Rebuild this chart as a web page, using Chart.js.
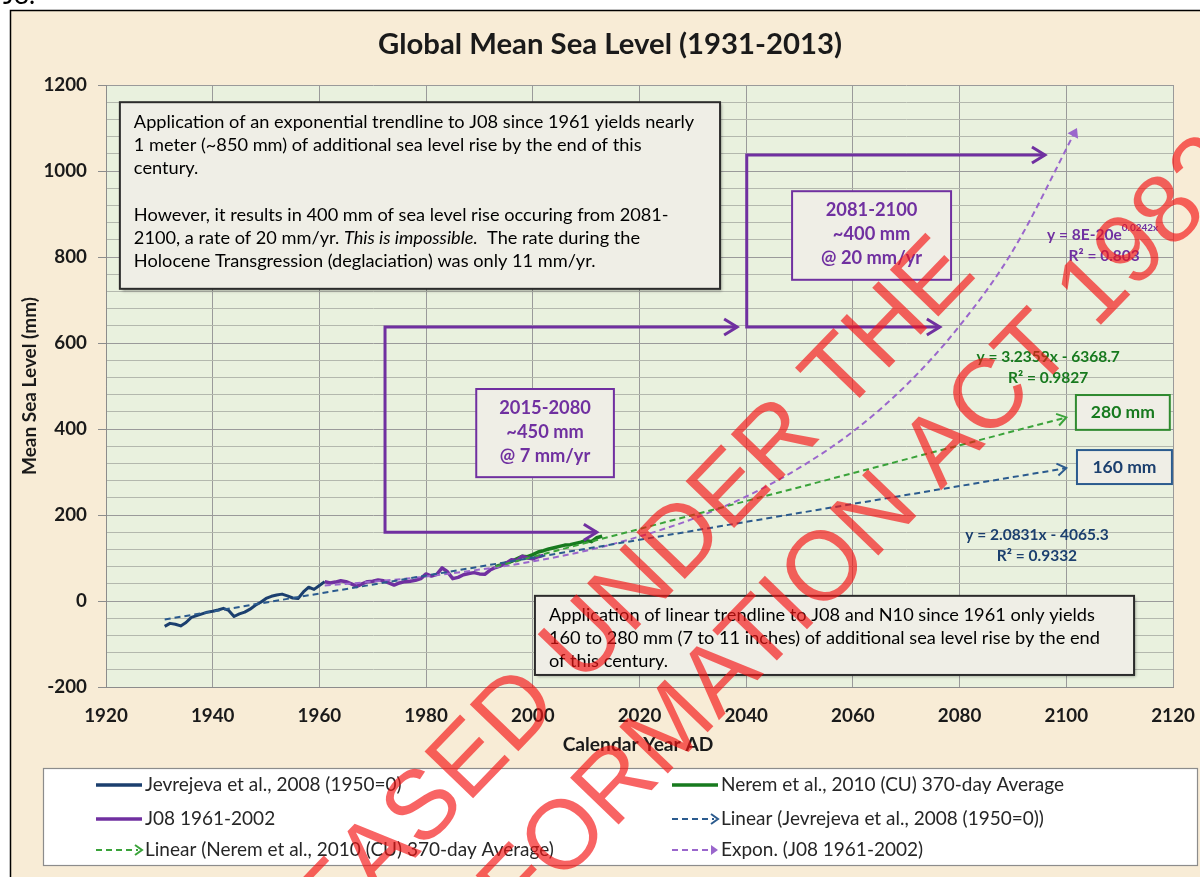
<!DOCTYPE html>
<html>
<head>
<meta charset="utf-8">
<title>Global Mean Sea Level (1931-2013)</title>
<script src="https://cdn.jsdelivr.net/npm/chart.js@4.4.1/dist/chart.umd.min.js"></script>
<style>
  html, body { margin: 0; padding: 0; background: #fff; }
  canvas { display: block; }
</style>
</head>
<body>
<canvas id="seaLevel" width="1200" height="877"></canvas>
<script>
// ── Data ─────────────────────────────────────────────────
const jevYears = [1931, 1932, 1933, 1934, 1935, 1936, 1937, 1938, 1939, 1940,
                  1941, 1942, 1943, 1944, 1945, 1946, 1947, 1948, 1949, 1950,
                  1951, 1952, 1953, 1954, 1955, 1956, 1957, 1958, 1959, 1960, 1961];
const jevLevel = [-59, -52, -54, -58, -50, -38, -34, -30, -26, -24,
                  -21, -17, -22, -36, -30, -26, -19, -10, -3, 6,
                  11, 14, 16, 12, 7, 6, 21, 32, 27, 36, 45];

const j08Years = [1961, 1962, 1963, 1964, 1965, 1966, 1967, 1968, 1969, 1970,
                  1971, 1972, 1973, 1974, 1975, 1976, 1977, 1978, 1979, 1980,
                  1981, 1982, 1983, 1984, 1985, 1986, 1987, 1988, 1989, 1990,
                  1991, 1992, 1993, 1994, 1995, 1996, 1997, 1998, 1999, 2000, 2001, 2002];
const j08Level = [45, 42, 44, 47, 45, 40, 34, 40, 45, 46,
                  49, 47, 42, 37, 42, 45, 46, 48, 52, 63,
                  58, 62, 77, 68, 52, 55, 61, 64, 66, 63,
                  62, 72, 78, 82, 88, 96, 94, 104, 100, 98, 103, 106];

const neremYears = [1993, 1994, 1995, 1996, 1997, 1998, 1999, 2000, 2001, 2002,
                    2003, 2004, 2005, 2006, 2007, 2008, 2009, 2010, 2011, 2012, 2013];
const neremLevel = [80, 84, 88, 92, 98, 104, 103, 108, 114, 117,
                    121, 124, 127, 130, 131, 134, 137, 141, 138, 147, 151];

const linJevYears = [1931, 2100];
const linJevLevel = [-43, 309];
const linNeremYears = [1993, 2100];
const linNeremLevel = [80, 427];
const exponYears = [1961, 1970, 1980, 1990, 2000, 2010, 2020, 2030, 2040, 2050, 2060, 2070, 2080, 2090, 2102];
const exponLevel = [36, 45, 57, 73, 92, 117, 150, 191, 243, 310, 394, 502, 640, 815, 1100];

const xTicks = [1920, 1940, 1960, 1980, 2000, 2020, 2040, 2060, 2080, 2100, 2120];
const yTicks = [-200, 0, 200, 400, 600, 800, 1000, 1200];

// ── Styles ───────────────────────────────────────────────
const FONT = 'Lato, "Open Sans", sans-serif';
const navy = '#1b3f6e';
const purple = '#7030a0';
const green = '#177a1e';
const navyDash = '#2b5b8e';
const greenDash = '#3aa33a';
const purpleDash = '#9a66cc';

const pairs = (xs, ys) => xs.map((x, i) => ({ x, y: ys[i] }));

function text(ctx, s, x, y, size, o = {}) {
    ctx.save();
    ctx.font = `${o.italic ? 'italic ' : ''}${o.bold ? 'bold ' : ''}${size}px ${FONT}`;
    ctx.fillStyle = o.color || '#000';
    ctx.textAlign = o.align || 'left';
    ctx.textBaseline = 'middle';
    ctx.fillText(s, x, y);
    const w = ctx.measureText(s).width;
    ctx.restore();
    return w;
}

function chevron(ctx, x, y, dx, dy, len, half, filled) {
    const n = Math.hypot(dx, dy); dx /= n; dy /= n;
    const bx = x - dx * len, by = y - dy * len;
    ctx.beginPath();
    ctx.moveTo(bx - dy * half, by + dx * half);
    ctx.lineTo(x, y);
    ctx.lineTo(bx + dy * half, by - dx * half);
    if (filled) { ctx.closePath(); ctx.fill(); } else ctx.stroke();
}

function box(ctx, x0, y0, x1, y1, stroke, lw, shadow) {
    ctx.save();
    if (shadow) {
        ctx.shadowColor = 'rgba(0,0,0,0.35)';
        ctx.shadowBlur = 3; ctx.shadowOffsetX = 2; ctx.shadowOffsetY = 2;
    }
    ctx.fillStyle = '#efeee6';
    ctx.fillRect(x0, y0, x1 - x0, y1 - y0);
    ctx.shadowColor = 'transparent';
    ctx.strokeStyle = stroke; ctx.lineWidth = lw;
    ctx.strokeRect(x0, y0, x1 - x0, y1 - y0);
    ctx.restore();
}

// ── Background, frame, plot fill ─────────────────────────
const backgroundPlugin = {
    id: 'background',
    beforeDraw(chart) {
        const { ctx, chartArea: a } = chart;
        ctx.save();
        ctx.fillStyle = '#ffffff';
        ctx.fillRect(0, 0, chart.width, chart.height);
        ctx.fillStyle = '#f8ecd6';
        ctx.fillRect(10, 10, chart.width - 10, chart.height - 10);
        ctx.strokeStyle = '#000'; ctx.lineWidth = 1.5;
        ctx.beginPath();
        ctx.moveTo(10.5, chart.height); ctx.lineTo(10.5, 10.5); ctx.lineTo(chart.width, 10.5);
        ctx.stroke();
        ctx.fillStyle = '#e9f1de';
        ctx.fillRect(a.left, a.top, a.right - a.left, a.bottom - a.top);
        ctx.restore();
        text(ctx, 'J8.', 3, -4, 26);
    }
};

// ── Arrowheads at the end of the trendlines ──────────────
const trendArrowPlugin = {
    id: 'trendArrows',
    afterDatasetsDraw(chart) {
        const ctx = chart.ctx;
        chart.data.datasets.forEach((ds, i) => {
            if (!ds.arrow) return;
            const pts = chart.getDatasetMeta(i).data;
            const p1 = pts[pts.length - 1], p0 = pts[pts.length - 2];
            ctx.save();
            ctx.strokeStyle = ds.borderColor; ctx.fillStyle = ds.borderColor;
            ctx.lineWidth = 2;
            chevron(ctx, p1.x, p1.y, p1.x - p0.x, p1.y - p0.y, 9, 6, ds.arrow === 'filled');
            ctx.restore();
        });
    }
};

// ── Annotations, titles, legend, stamp ───────────────────
const annotationPlugin = {
    id: 'annotations',
    afterDraw(chart) {
        const { ctx } = chart;
        const X = v => chart.scales.x.getPixelForValue(v);
        const Y = v => chart.scales.y.getPixelForValue(v);

        // purple brackets
        ctx.save();
        ctx.strokeStyle = purple; ctx.lineWidth = 3; ctx.lineJoin = 'miter';
        [[1972.3, 637, 160, 2038.3, 2012.0], [2040.1, 1037, 637, 2096.0, 2076.3]].forEach(([bx, top, bot, tipTop, tipBot]) => {
            ctx.beginPath();
            ctx.moveTo(X(tipTop), Y(top));
            ctx.lineTo(X(bx), Y(top));
            ctx.lineTo(X(bx), Y(bot));
            ctx.lineTo(X(tipBot), Y(bot));
            ctx.stroke();
            chevron(ctx, X(tipTop), Y(top), 1, 0, 13, 8);
            chevron(ctx, X(tipBot), Y(bot), 1, 0, 13, 8);
        });
        ctx.restore();

        // big note
        const fs = 18.2;
        box(ctx, X(1922.6), Y(1160), X(2035.1), Y(726), '#2b2b2b', 2, true);
        const l0 = X(1922.6) + 14, t0 = Y(1160) + 20, lh = 23.2;
        text(ctx, 'Application of an exponential trendline to J08 since 1961 yields nearly', l0, t0, fs);
        text(ctx, '1 meter (~850 mm) of additional sea level rise by the end of this', l0, t0 + lh, fs);
        text(ctx, 'century.', l0, t0 + 2 * lh, fs);
        text(ctx, 'However, it results in 400 mm of sea level rise occuring from 2081-', l0, t0 + 4 * lh, fs);
        let w = text(ctx, '2100, a rate of 20 mm/yr. ', l0, t0 + 5 * lh, fs);
        w += text(ctx, 'This is impossible.', l0 + w, t0 + 5 * lh, fs, { italic: true });
        text(ctx, '  The rate during the', l0 + w, t0 + 5 * lh, fs);
        text(ctx, 'Holocene Transgression (deglaciation) was only 11 mm/yr.', l0, t0 + 6 * lh, fs);

        // rate boxes
        box(ctx, X(1989.4), Y(493), X(2015.2), Y(288), purple, 2);
        let cx = (X(1989.4) + X(2015.2)) / 2, cy = Y(493) + 19;
        ['2015-2080', '~450 mm', '@ 7 mm/yr'].forEach((s, i) => text(ctx, s, cx, cy + i * 24, 18.3, { bold: true, color: purple, align: 'center' }));
        box(ctx, X(2048.6), Y(953), X(2078.4), Y(747), purple, 2);
        cx = (X(2048.6) + X(2078.4)) / 2; cy = Y(953) + 19;
        ['2081-2100', '~400 mm', '@ 20 mm/yr'].forEach((s, i) => text(ctx, s, cx, cy + i * 24, 18.3, { bold: true, color: purple, align: 'center' }));

        box(ctx, X(2101.8), Y(479), X(2119.4), Y(398), '#2f8a2f', 2);
        text(ctx, '280 mm', (X(2101.8) + X(2119.4)) / 2, (Y(479) + Y(398)) / 2, 17.5, { bold: true, color: green, align: 'center' });
        box(ctx, X(2102.0), Y(351), X(2119.8), Y(272), '#2b5b8e', 2);
        text(ctx, '160 mm', (X(2102.0) + X(2119.8)) / 2, (Y(351) + Y(272)) / 2, 17.5, { bold: true, color: navy, align: 'center' });

        // bottom note
        box(ctx, X(2000.4), Y(12), X(2112.7), Y(-172), '#2b2b2b', 2, true);
        const l1 = X(2000.4) + 14, t1 = Y(12) + 19;
        text(ctx, 'Application of linear trendline to J08 and N10 since 1961 only yields', l1, t1, fs);
        text(ctx, '160 to 280 mm (7 to 11 inches) of additional sea level rise by the end', l1, t1 + 23, fs);
        text(ctx, 'of this century.', l1, t1 + 46, fs);

        // trendline equations
        const es = 15.5;
        w = text(ctx, 'y = 8E-20e', X(2096.4), Y(851), es, { bold: true, color: purple });
        text(ctx, '0.0242x', X(2096.4) + w, Y(851) - 7, 10, { bold: true, color: purple });
        text(ctx, 'R² = 0.803', X(2107.1), Y(802), es, { bold: true, color: purple, align: 'center' });
        text(ctx, 'y = 3.2359x - 6368.7', X(2096.6), Y(567), es, { bold: true, color: green, align: 'center' });
        text(ctx, 'R² = 0.9827', X(2096.6), Y(519), es, { bold: true, color: green, align: 'center' });
        text(ctx, 'y = 2.0831x - 4065.3', X(2094.5), Y(153), es, { bold: true, color: navy, align: 'center' });
        text(ctx, 'R² = 0.9332', X(2094.5), Y(105), es, { bold: true, color: navy, align: 'center' });

        // titles
        text(ctx, 'Global Mean Sea Level (1931-2013)', 610, 45, 29.3, { bold: true, align: 'center', color: '#1a1a1a' });
        text(ctx, 'Calendar Year AD', 638, 745, 19.2, { bold: true, align: 'center', color: '#1a1a1a' });
        ctx.save();
        ctx.translate(30, 386); ctx.rotate(-Math.PI / 2);
        text(ctx, 'Mean Sea Level (mm)', 0, 0, 19, { bold: true, align: 'center', color: '#1a1a1a' });
        ctx.restore();

        // legend
        ctx.save();
        ctx.fillStyle = '#ffffff';
        ctx.fillRect(43, 768, 1154, 97);
        ctx.strokeStyle = '#8c8c8c'; ctx.lineWidth = 1.2;
        ctx.strokeRect(43.5, 768.5, 1154, 97);
        ctx.restore();
        const cols = [96, 672], rows = [785, 819, 850];
        chart.data.datasets.forEach(ds => {
            const x0 = cols[ds.legendCol], y0 = rows[ds.legendRow], x1 = x0 + 46;
            ctx.save();
            ctx.strokeStyle = ds.borderColor; ctx.fillStyle = ds.borderColor;
            ctx.lineWidth = ds.borderDash ? 2 : 3.5;
            ctx.setLineDash(ds.borderDash || []);
            ctx.beginPath(); ctx.moveTo(x0, y0); ctx.lineTo(ds.arrow ? x1 - 4 : x1, y0); ctx.stroke();
            ctx.setLineDash([]);
            if (ds.arrow) chevron(ctx, x1, y0, 1, 0, 7, 5, ds.arrow === 'filled');
            ctx.restore();
            text(ctx, ds.label, x1 + 3, y0, 19, { color: '#262626' });
        });

        // FOI stamp
        ctx.save();
        ctx.fillStyle = 'rgba(245, 20, 20, 0.66)';
        ctx.font = '98px "Liberation Sans", Arial, sans-serif';
        ctx.textAlign = 'center'; ctx.textBaseline = 'middle';
        [[569, 660, 'RELEASED UNDER THE'], [593, 812, 'FREEDOM OF INFORMATION ACT 1982']].forEach(([x, y, s]) => {
            ctx.save(); ctx.translate(x, y); ctx.rotate(-46 * Math.PI / 180);
            ctx.fillText(s, 0, 0); ctx.restore();
        });
        ctx.restore();
    }
};

// ── Chart ────────────────────────────────────────────────
new Chart(document.getElementById('seaLevel'), {
    type: 'line',
    data: {
        datasets: [
            { label: 'Jevrejeva et al., 2008 (1950=0)', data: pairs(jevYears, jevLevel), borderColor: navy, borderWidth: 3, order: 5, legendCol: 0, legendRow: 0 },
            { label: 'Nerem et al., 2010 (CU) 370-day Average', data: pairs(neremYears, neremLevel), borderColor: green, borderWidth: 3.5, order: 4, legendCol: 1, legendRow: 0 },
            { label: 'J08 1961-2002', data: pairs(j08Years, j08Level), borderColor: purple, borderWidth: 3.5, order: 3, legendCol: 0, legendRow: 1 },
            { label: 'Linear (Jevrejeva et al., 2008 (1950=0))', data: pairs(linJevYears, linJevLevel), borderColor: navyDash, borderWidth: 2, borderDash: [6, 4], order: 1, arrow: 'open', legendCol: 1, legendRow: 1 },
            { label: 'Linear (Nerem et al., 2010 (CU) 370-day Average)', data: pairs(linNeremYears, linNeremLevel), borderColor: greenDash, borderWidth: 2, borderDash: [6, 4], order: 1, arrow: 'open', legendCol: 0, legendRow: 2 },
            { label: 'Expon. (J08 1961-2002)', data: pairs(exponYears, exponLevel), borderColor: purpleDash, borderWidth: 2, borderDash: [6, 4], cubicInterpolationMode: 'monotone', order: 1, arrow: 'filled', legendCol: 1, legendRow: 2 }
        ]
    },
    options: {
        responsive: false,
        animation: false,
        devicePixelRatio: 1,
        layout: { padding: { left: 10, top: 85, right: 27, bottom: 0 } },
        elements: { point: { radius: 0 }, line: { fill: false, borderJoinStyle: 'round' } },
        plugins: { legend: { display: false }, tooltip: { enabled: false }, title: { display: false } },
        scales: {
            x: {
                type: 'linear', min: 1920, max: 2120,
                afterFit: s => { s.height = 190; s.paddingLeft = 0; s.paddingRight = 0; },
                afterBuildTicks: s => { s.ticks = xTicks.map(v => ({ value: v })); },
                ticks: {
                    autoSkip: false, maxRotation: 0, padding: 18, color: '#1a1a1a',
                    font: { family: FONT, size: 18.8, weight: 'bold' },
                    callback: v => String(v)
                },
                grid: { color: '#9a9a9a', drawTicks: false },
                border: { color: '#8c8c8c' }
            },
            y: {
                min: -200, max: 1200,
                afterFit: s => { s.width = 96; s.paddingTop = 0; s.paddingBottom = 0; },
                afterBuildTicks: s => {
                    const t = [];
                    for (let v = yTicks[0]; v <= yTicks[yTicks.length - 1]; v += 40) t.push({ value: v });
                    s.ticks = t;
                },
                ticks: {
                    autoSkip: false, padding: 11, color: '#1a1a1a',
                    font: { family: FONT, size: 18.8, weight: 'bold' },
                    callback: v => (yTicks.includes(v) ? String(v) : '')
                },
                grid: {
                    color: c => (yTicks.includes(c.tick.value) ? '#9a9a9a' : '#b3b8ad'),
                    tickColor: c => (yTicks.includes(c.tick.value) ? '#8c8c8c' : 'rgba(0,0,0,0)'),
                    tickLength: 8
                },
                border: { color: '#8c8c8c' }
            }
        }
    },
    plugins: [backgroundPlugin, trendArrowPlugin, annotationPlugin]
});
</script>
</body>
</html>
